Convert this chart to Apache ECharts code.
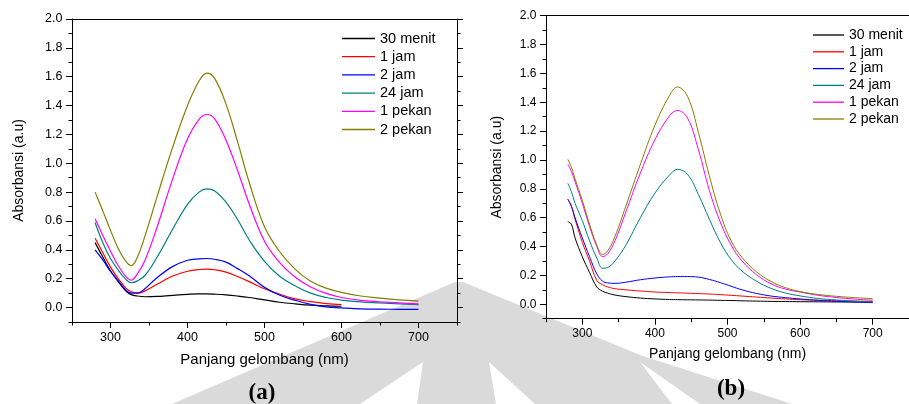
<!DOCTYPE html>
<html>
<head>
<meta charset="utf-8">
<script src="https://cdn.jsdelivr.net/npm/echarts@6/dist/echarts.min.js"></script>
<style>
html,body{margin:0;padding:0;background:#fff;}
#chart{width:909px;height:404px;}
</style>
</head>
<body>
<div id="chart"></div>
<script>
// ---------- data ----------
const seriesNames = ['30 menit', '1 jam', '2 jam', '24 jam', '1 pekan', '2 pekan'];
const seriesColors = ['#000000', '#ff0000', '#0000ff', '#008080', '#ff00ff', '#808000'];

const xTickLabels = [300, 400, 500, 600, 700];
const yTickLabels = [0.0, 0.2, 0.4, 0.6, 0.8, 1.0, 1.2, 1.4, 1.6, 1.8, 2.0];

// panel (a)
const wavelengthA = [280, 290, 300, 310, 320, 327, 335, 345, 360, 380, 400, 415, 425, 435, 450, 465, 480, 500, 520, 540, 560, 580, 600, 625, 650, 675, 700];
const a30menit = [0.45, 0.35, 0.255, 0.18, 0.115, 0.09, 0.08, 0.075, 0.077, 0.085, 0.092, 0.095, 0.095, 0.093, 0.088, 0.08, 0.07, 0.053, 0.037, 0.026, 0.017, 0.012, 0.009];
const a1jam = [0.48, 0.38, 0.28, 0.20, 0.135, 0.11, 0.10, 0.116, 0.16, 0.217, 0.252, 0.264, 0.266, 0.262, 0.246, 0.215, 0.18, 0.13, 0.092, 0.06, 0.041, 0.028, 0.021];
const a2jam = [0.40, 0.33, 0.25, 0.185, 0.12, 0.10, 0.10, 0.132, 0.205, 0.282, 0.328, 0.338, 0.34, 0.335, 0.315, 0.27, 0.22, 0.14, 0.085, 0.05, 0.022, 0.005, -0.002, -0.009, -0.011, -0.012, -0.012];
const a24jam = [0.59, 0.45, 0.34, 0.26, 0.195, 0.172, 0.185, 0.224, 0.345, 0.536, 0.715, 0.80, 0.823, 0.81, 0.73, 0.61, 0.47, 0.32, 0.215, 0.15, 0.10, 0.07, 0.052, 0.039, 0.032, 0.026, 0.021];
const a1pekan = [0.615, 0.50, 0.39, 0.29, 0.215, 0.19, 0.235, 0.33, 0.55, 0.88, 1.17, 1.305, 1.338, 1.31, 1.16, 0.95, 0.72, 0.46, 0.31, 0.21, 0.143, 0.098, 0.07, 0.05, 0.04, 0.032, 0.025];
const a2pekan = [0.80, 0.67, 0.535, 0.41, 0.32, 0.29, 0.35, 0.50, 0.76, 1.10, 1.40, 1.57, 1.625, 1.59, 1.41, 1.15, 0.87, 0.56, 0.385, 0.265, 0.182, 0.135, 0.105, 0.08, 0.065, 0.053, 0.045];

// panel (b)
const wavelengthB = [280, 285, 290, 300, 310, 320, 328, 335, 345, 360, 380, 400, 420, 431, 445, 460, 475, 490, 505, 520, 540, 560, 580, 600, 625, 650, 675, 700];
const b30menit = [0.573, 0.555, 0.46, 0.33, 0.22, 0.12, 0.09, 0.077, 0.064, 0.053, 0.043, 0.037, 0.033, 0.032, 0.031, 0.03, 0.029, 0.027, 0.026, 0.024, 0.022, 0.02, 0.019, 0.018, 0.017, 0.016, 0.016, 0.015];
const b1jam = [0.73, 0.68, 0.59, 0.43, 0.30, 0.165, 0.135, 0.12, 0.108, 0.10, 0.092, 0.085, 0.081, 0.079, 0.077, 0.074, 0.071, 0.067, 0.062, 0.057, 0.05, 0.043, 0.037, 0.032, 0.028, 0.025, 0.022, 0.02];
const b2jam = [0.727, 0.68, 0.60, 0.46, 0.33, 0.21, 0.16, 0.148, 0.145, 0.153, 0.17, 0.182, 0.19, 0.192, 0.192, 0.188, 0.172, 0.15, 0.125, 0.10, 0.075, 0.057, 0.046, 0.037, 0.027, 0.02, 0.015, 0.011];
const b24jam = [0.838, 0.78, 0.70, 0.58, 0.44, 0.32, 0.25, 0.255, 0.30, 0.41, 0.60, 0.77, 0.895, 0.935, 0.90, 0.76, 0.59, 0.43, 0.31, 0.23, 0.16, 0.11, 0.078, 0.058, 0.04, 0.03, 0.022, 0.016];
const b1pekan = [0.972, 0.92, 0.85, 0.70, 0.54, 0.40, 0.33, 0.35, 0.44, 0.64, 0.91, 1.14, 1.305, 1.343, 1.29, 1.07, 0.79, 0.57, 0.41, 0.30, 0.205, 0.142, 0.105, 0.085, 0.062, 0.047, 0.036, 0.028];
const b2pekan = [1.005, 0.95, 0.87, 0.72, 0.555, 0.41, 0.345, 0.37, 0.47, 0.68, 0.97, 1.24, 1.445, 1.506, 1.44, 1.19, 0.89, 0.63, 0.44, 0.325, 0.225, 0.158, 0.115, 0.088, 0.068, 0.055, 0.046, 0.039];

// ---------- build ----------
const FONT = "'Liberation Sans', Arial, sans-serif";
const X_MIN = 250, X_MAX = 750, Y_MIN = -0.1, Y_MAX = 2.0;
const xMinor = [X_MIN].concat(xTickLabels.map(v => v + 50));
const yMinor = [Y_MIN].concat(yTickLabels.slice(0, -1).map(v => +(v + 0.1).toFixed(2)));

function pair(xs, ys) { return ys.map((y, i) => [xs[i], y]); }

const panels = [
  { grid: { left: 72, top: 19, width: 385, height: 303 }, fs: { tick: 12.5, name: 15, yname: 14 },
    xGap: 30, yGap: 46, lineW: 1.2,
    data: [a30menit, a1jam, a2jam, a24jam, a1pekan, a2pekan], xs: wavelengthA },
  { grid: { left: 546, top: 15.7, width: 374, height: 303 }, fs: { tick: 12, name: 14, yname: 14 },
    xGap: 28, yGap: 42, lineW: 1.0,
    data: [b30menit, b1jam, b2jam, b24jam, b1pekan, b2pekan], xs: wavelengthB }
];

const grids = [], xAxes = [], yAxes = [], series = [];
const lineStyleAxis = { color: '#000', width: 1 };

panels.forEach((p, gi) => {
  grids.push(p.grid);
  const xBase = xAxes.length, yBase = yAxes.length;
  xAxes.push({
    type: 'value', gridIndex: gi, position: 'bottom', min: X_MIN, max: X_MAX,
    axisLine: { show: true, onZero: false, lineStyle: lineStyleAxis },
    axisTick: { show: true, inside: false, length: 6, customValues: xTickLabels, lineStyle: lineStyleAxis },
    axisLabel: { show: true, customValues: xTickLabels, margin: 9, fontSize: p.fs.tick, fontFamily: FONT, color: '#000' },
    splitLine: { show: false },
    name: 'Panjang gelombang (nm)', nameLocation: 'middle', nameGap: p.xGap,
    nameTextStyle: { fontSize: p.fs.name, fontFamily: FONT, color: '#000' }
  });
  xAxes.push({
    type: 'value', gridIndex: gi, position: 'bottom', min: X_MIN, max: X_MAX,
    axisLine: { show: false, onZero: false },
    axisTick: { show: true, length: 3.5, customValues: xMinor, lineStyle: lineStyleAxis },
    axisLabel: { show: false }, splitLine: { show: false }
  });
  xAxes.push({
    type: 'value', gridIndex: gi, position: 'top', min: X_MIN, max: X_MAX,
    axisLine: { show: true, onZero: false, lineStyle: lineStyleAxis },
    axisTick: { show: false }, axisLabel: { show: false }, splitLine: { show: false }
  });
  yAxes.push({
    type: 'value', gridIndex: gi, position: 'left', min: Y_MIN, max: Y_MAX,
    axisLine: { show: true, onZero: false, lineStyle: lineStyleAxis },
    axisTick: { show: true, length: 6, customValues: yTickLabels, lineStyle: lineStyleAxis },
    axisLabel: { show: true, customValues: yTickLabels, margin: 9.5, fontSize: p.fs.tick, fontFamily: FONT, color: '#000',
      formatter: v => Number(v).toFixed(1) },
    splitLine: { show: false },
    name: 'Absorbansi (a.u)', nameLocation: 'middle', nameGap: p.yGap,
    nameTextStyle: { fontSize: p.fs.yname, fontFamily: FONT, color: '#000' }
  });
  yAxes.push({
    type: 'value', gridIndex: gi, position: 'left', min: Y_MIN, max: Y_MAX,
    axisLine: { show: false, onZero: false },
    axisTick: { show: true, length: 3.5, customValues: yMinor, lineStyle: lineStyleAxis },
    axisLabel: { show: false }, splitLine: { show: false }
  });
  yAxes.push({
    type: 'value', gridIndex: gi, position: 'right', min: Y_MIN, max: Y_MAX,
    axisLine: { show: true, onZero: false, lineStyle: lineStyleAxis },
    axisTick: { show: true, length: 6, customValues: yTickLabels, lineStyle: lineStyleAxis },
    axisLabel: { show: false }, splitLine: { show: false }
  });
  yAxes.push({
    type: 'value', gridIndex: gi, position: 'right', min: Y_MIN, max: Y_MAX,
    axisLine: { show: false, onZero: false },
    axisTick: { show: true, length: 3.5, customValues: yMinor, lineStyle: lineStyleAxis },
    axisLabel: { show: false }, splitLine: { show: false }
  });

  p.data.forEach((ys, si) => {
    series.push({
      type: 'line', name: seriesNames[si], xAxisIndex: xBase, yAxisIndex: yBase,
      data: pair(p.xs, ys), symbol: 'none', smooth: 0.4, animation: false,
      lineStyle: { color: seriesColors[si], width: p.lineW }, itemStyle: { color: seriesColors[si] },
      z: 3
    });
  });
});

const legendCommon = {
  orient: 'vertical', icon: 'rect', itemHeight: 1.3, padding: 0,
  selectedMode: false, data: seriesNames
};

const option = {
  backgroundColor: '#ffffff',
  animation: false,
  grid: grids,
  xAxis: xAxes,
  yAxis: yAxes,
  legend: [
    Object.assign({}, legendCommon, { left: 342, top: 31, itemWidth: 33, itemGap: 3.2, itemTextGap: 5,
      textStyle: { fontSize: 14.5, fontFamily: FONT, color: '#000' } }),
    Object.assign({}, legendCommon, { left: 813, top: 28, itemWidth: 31, itemGap: 2.8, itemTextGap: 4,
      textStyle: { fontSize: 14, fontFamily: FONT, color: '#000' } })
  ],
  graphic: [
    { type: 'polygon', silent: true, z: -20,
      shape: { points: [[172, 404], [455, 282], [463, 282], [640, 355], [792, 404]] },
      style: { fill: '#dadada' } },
    { type: 'polygon', silent: true, z: -19,
      shape: { points: [[423, 362], [417, 404], [360, 404]] }, style: { fill: '#ffffff' } },
    { type: 'polygon', silent: true, z: -19,
      shape: { points: [[489, 362], [535, 404], [496, 404]] }, style: { fill: '#ffffff' } },
    { type: 'polygon', silent: true, z: -19,
      shape: { points: [[640, 362], [700, 404], [672, 404]] }, style: { fill: '#ffffff' } },
    { type: 'text', x: 262, y: 393, z: 10,
      style: { text: '(a)', fill: '#000', font: "bold 23px 'Liberation Serif', 'Times New Roman', serif",
        textAlign: 'center', textVerticalAlign: 'middle' } },
    { type: 'text', x: 731, y: 389, z: 10,
      style: { text: '(b)', fill: '#000', font: "bold 23px 'Liberation Serif', 'Times New Roman', serif",
        textAlign: 'center', textVerticalAlign: 'middle' } }
  ],
  series: series
};

const chart = echarts.init(document.getElementById('chart'), null, { renderer: 'canvas' });
chart.setOption(option);
</script>
</body>
</html>
